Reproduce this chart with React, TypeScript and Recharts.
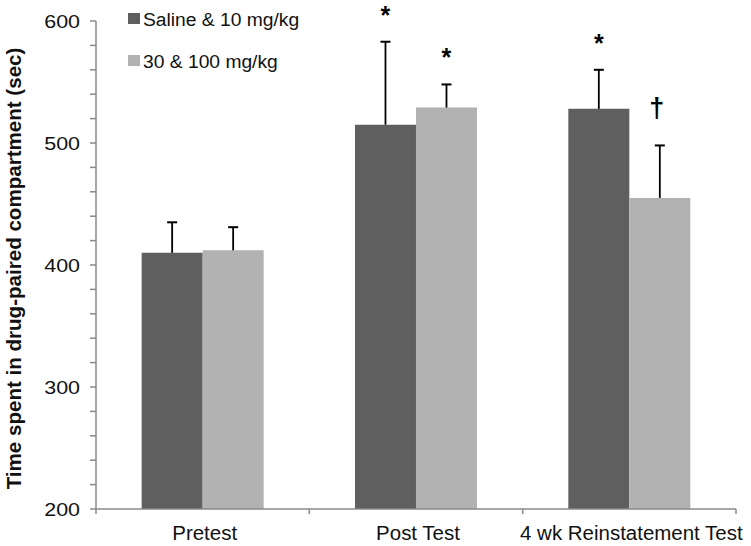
import React from "react";
import { BarChart, Bar, XAxis, YAxis, Legend, LabelList } from "recharts";

const categories = ["Pretest", "Post Test", "4 wk Reinstatement Test"];
const seriesNames = ["Saline & 10 mg/kg", "30 & 100 mg/kg"];
const salineMeans = [410, 515, 528];
const salineErr = [25, 68, 32];
const highMeans = [412, 529, 455];
const highErr = [19, 19, 43];
const salineMarks = ["", "*", "*"];
const highMarks = ["", "*", "\u2020"];
const yTicks = [200, 220, 240, 260, 280, 300, 320, 340, 360, 380, 400, 420, 440, 460, 480, 500, 520, 540, 560, 580, 600];
const yDomain = [200, 600];
const yTitle = "Time spent in drug-paired compartment (sec)";

const data = categories.map((c, i) => ({
  name: c,
  saline: salineMeans[i],
  high: highMeans[i],
}));

const W = 751;
const H = 546;
const MARGIN = { top: 21, right: 15, left: 0, bottom: 0 };
const YW = 96;
const XH = 37;
const PLOT_W = W - MARGIN.left - MARGIN.right - YW;
const BAND = PLOT_W / categories.length;
const FONT = "'Liberation Sans', Arial, sans-serif";
const AXIS = "#8a8a8a";
const DARK = "#5f5f5f";
const LIGHT = "#b2b2b2";
const TXT = "#111";

const SText = ({ x, y, sx = 1, anchor = "start", size = 18, weight = "normal", rotate = 0, children }: any) => (
  <text
    transform={`translate(${x},${y}) rotate(${rotate}) scale(${sx},1)`}
    x={0}
    y={0}
    textAnchor={anchor}
    fontFamily={FONT}
    fontSize={size}
    fontWeight={weight}
    fill={TXT}
  >
    {children}
  </text>
);

const makeErrLabel = (means: number[], errs: number[], marks: string[]) => (props: any) => {
  const { x, y, width, height, index } = props;
  const pxPerUnit = height / (means[index] - yDomain[0]);
  const top = y - errs[index] * pxPerUnit;
  const cx = x + width / 2;
  const mark = marks[index];
  return (
    <g>
      <line x1={cx} x2={cx} y1={y} y2={top} stroke="#000" strokeWidth={1.8} />
      <line x1={cx - 5} x2={cx + 5} y1={top} y2={top} stroke="#000" strokeWidth={2} />
      {mark === "*" && (
        <text x={cx} y={top - 18} textAnchor="middle" fontFamily={FONT} fontWeight="bold" fontSize={25} fill="#000">
          *
        </text>
      )}
      {mark === "\u2020" && (
        <text x={cx - 3} y={top - 28} textAnchor="middle" fontFamily={FONT} fontWeight="bold" fontSize={27} fill="#000">
          {mark}
        </text>
      )}
    </g>
  );
};

const XTick = (props: any) => {
  const { x, y, payload, index } = props;
  const left = x - BAND / 2;
  const right = x + BAND / 2;
  return (
    <g>
      <line x1={left} x2={left} y1={y - 8} y2={y - 3} stroke={AXIS} strokeWidth={1.5} />
      {index === categories.length - 1 && (
        <line x1={right} x2={right} y1={y - 8} y2={y - 3} stroke={AXIS} strokeWidth={1.5} />
      )}
      <SText x={x + 2} y={y + 23} anchor="middle" size={19.5} sx={1.05}>
        {payload.value}
      </SText>
    </g>
  );
};

const YTick = (props: any) => {
  const { x, y, payload } = props;
  if (payload.value % 100 !== 0) return <g />;
  return (
    <SText x={x} y={y + 6.8} anchor="end" size={18.5} sx={1.16}>
      {String(payload.value)}
    </SText>
  );
};

const YTitle = () => (
  <SText x={21} y={268.5} anchor="middle" size={19.5} weight="bold" rotate={-90} sx={1.055}>
    {yTitle}
  </SText>
);

const LegendContent = () => (
  <svg width={260} height={80}>
    {seriesNames.map((n, i) => (
      <g key={n}>
        <rect x={3} y={7 + i * 42} width={12} height={11} fill={i === 0 ? DARK : LIGHT} />
        <SText x={18} y={20 + i * 42} size={18} sx={1.07}>
          {n}
        </SText>
      </g>
    ))}
  </svg>
);

export default function App() {
  return (
    <div style={{ position: "absolute", left: 0, top: 0, background: "#fff" }}>
      <BarChart width={W} height={H} data={data} margin={MARGIN} barCategoryGap="21.4%" barGap={0}>
        <YAxis
          width={YW}
          domain={yDomain}
          ticks={yTicks}
          interval={0}
          allowDataOverflow
          tickSize={6}
          tickMargin={10}
          axisLine={{ stroke: AXIS, strokeWidth: 1.5 }}
          tickLine={{ stroke: AXIS, strokeWidth: 1.5 }}
          tick={<YTick />}
          label={<YTitle />}
        />
        <XAxis
          dataKey="name"
          height={XH}
          axisLine={{ stroke: AXIS, strokeWidth: 1.5 }}
          tickLine={false}
          tick={<XTick />}
          interval={0}
        />
        <Legend
          content={<LegendContent />}
          layout="vertical"
          verticalAlign="middle"
          align="center"
          wrapperStyle={{ position: "absolute", left: 125, top: 6, width: 260, height: 80 }}
        />
        <Bar dataKey="saline" name={seriesNames[0]} fill={DARK} isAnimationActive={false}>
          <LabelList dataKey="saline" content={makeErrLabel(salineMeans, salineErr, salineMarks)} />
        </Bar>
        <Bar dataKey="high" name={seriesNames[1]} fill={LIGHT} isAnimationActive={false}>
          <LabelList dataKey="high" content={makeErrLabel(highMeans, highErr, highMarks)} />
        </Bar>
      </BarChart>
    </div>
  );
}
